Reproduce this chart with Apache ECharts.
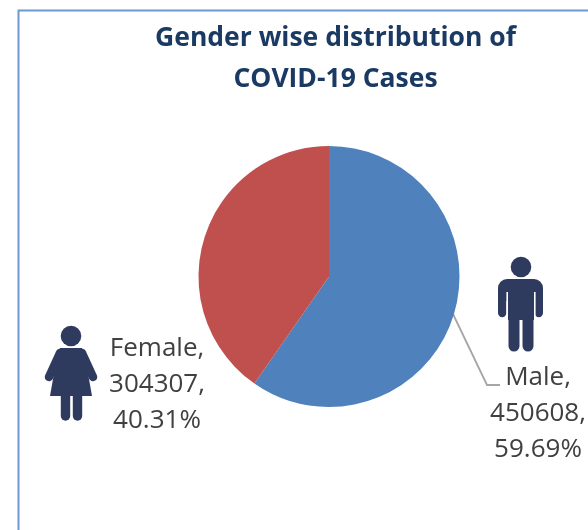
<!DOCTYPE html>
<html><head><meta charset="utf-8">
<style>html,body{margin:0;padding:0;background:#fff}#c{width:588px;height:530px}</style>
<script src="https://cdn.jsdelivr.net/npm/echarts@6/dist/echarts.min.js"></script>
</head><body><div id="c"></div>
<script>
const categories = ['Male', 'Female'];
const cases = [450608, 304307];
const percents = ['59.69%', '40.31%'];
const titleLines = ['Gender wise distribution of', 'COVID-19 Cases'];
const colors = ['#4F81BD', '#C0504D'];
const ink = '#2F3B5E';

const chart = echarts.init(document.getElementById('c'), null, {renderer: 'canvas'});
const limb = (x1, y1, x2, y2, w) => ({type: 'line', shape: {x1, y1, x2, y2},
  style: {stroke: ink, lineWidth: w, lineCap: 'round'}, silent: true});
const poly = (points) => ({type: 'polygon', shape: {points}, style: {fill: ink}, silent: true});
const head = (cx, cy) => ({type: 'circle', shape: {cx, cy, r: 10.3}, style: {fill: ink}, silent: true});

chart.setOption({
  animation: false,
  backgroundColor: '#fff',
  title: {
    text: titleLines.join('\n'), left: 330.5, top: 13, textAlign: 'center',
    textStyle: {fontFamily: 'Open Sans', fontWeight: 700, fontSize: 26.5, lineHeight: 41, color: '#1B3A63'}
  },
  graphic: [
    {type: 'rect', shape: {x: 18.5, y: 10.5, width: 620, height: 600},
      style: {fill: 'none', stroke: '#6E98CF', lineWidth: 2}, silent: true},
    // male figure
    head(521, 267),
    {type: 'rect', shape: {x: 498, y: 279, width: 45, height: 22, r: [9, 9, 0, 0]}, style: {fill: ink}, silent: true},
    limb(502.2, 295, 502.2, 313, 8.4),
    limb(538.8, 295, 538.8, 313, 8.4),
    {type: 'rect', shape: {x: 508, y: 290, width: 26, height: 30}, style: {fill: ink}, silent: true},
    {type: 'rect', shape: {x: 506.4, y: 292, width: 1.6, height: 30}, style: {fill: '#fff'}, silent: true},
    {type: 'rect', shape: {x: 534, y: 292, width: 1.6, height: 30}, style: {fill: '#fff'}, silent: true},
    limb(514, 316, 514, 346, 11),
    limb(528, 316, 528, 346, 11),
    // female figure
    head(71, 336),
    poly([[60, 348], [82, 348], [86, 362], [92, 396], [50, 396], [56, 362]]),
    limb(60, 353, 49, 377, 8.5),
    limb(82, 353, 93, 377, 8.5),
    limb(65.5, 394, 65.5, 416, 9.4),
    limb(77.5, 394, 77.5, 416, 9.4)
  ],
  series: [{
    type: 'pie',
    center: [329, 276.5],
    radius: [0, 130.5],
    startAngle: 90,
    clockwise: true,
    data: categories.map((name, i) => ({
      name, value: cases[i],
      itemStyle: {color: colors[i]},
      labelLine: {show: i === 0}
    })),
    label: {
      show: true, position: 'outside', alignTo: 'none', overflow: 'none',
      formatter: (p) => `${p.name},\n${p.value},\n${percents[p.dataIndex]}`,
      fontFamily: 'Open Sans', fontSize: 26, lineHeight: 36, color: '#404040', align: 'center'
    },
    labelLine: {show: true, lineStyle: {color: '#A6A6A6', width: 1.8}},
    labelLayout: (p) => p.dataIndex === 0
      ? {x: 538, y: 414, align: 'center', verticalAlign: 'middle',
         labelLinePoints: [[453, 314], [487, 385], [500, 385]]}
      : {x: 157, y: 385, align: 'center', verticalAlign: 'middle'},
    emphasis: {disabled: true}
  }]
});
</script></body></html>
